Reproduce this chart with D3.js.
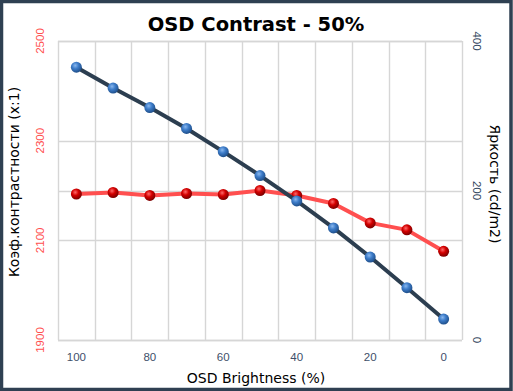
<!DOCTYPE html>
<html>
<head>
<meta charset="utf-8">
<script src="https://cdn.jsdelivr.net/npm/d3@7/dist/d3.min.js"></script>
<style>
  html, body { margin: 0; padding: 0; background: #fff; }
  svg { display: block; }
</style>
</head>
<body>
<div id="chart"></div>
<script>
// data
const brightness = ["100", "90", "80", "70", "60", "50", "40", "30", "20", "10", "0"];
const xTickLabels = ["100", "80", "60", "40", "20", "0"];
const contrast = [2193, 2196, 2190, 2194, 2192, 2200, 2190, 2174, 2135, 2121, 2078];
const luminance = [365, 337, 311, 283, 252, 220, 186, 150, 111, 70, 28];
const leftTicks = [1900, 2100, 2300, 2500];
const rightTicks = [0, 200, 400];

const W = 513, H = 391;
const plot = { left: 58, right: 462, top: 41, bottom: 340 };

const svg = d3.select("#chart").append("svg")
  .attr("width", W).attr("height", H);

const defs = svg.append("defs");
function ball(id, hi, mid, lo) {
  const g = defs.append("radialGradient").attr("id", id)
    .attr("cx", "40%").attr("cy", "35%").attr("r", "65%");
  g.append("stop").attr("offset", "0%").attr("stop-color", hi);
  g.append("stop").attr("offset", "45%").attr("stop-color", mid);
  g.append("stop").attr("offset", "100%").attr("stop-color", lo);
}
ball("redBall", "#ff6a6a", "#d40000", "#7a0000");
ball("blueBall", "#8ab8ee", "#3d7cc9", "#1f4f8a");

// frame
svg.append("rect").attr("x", 1.5).attr("y", 1.5)
  .attr("width", W - 3.5).attr("height", H - 3)
  .attr("fill", "#fff").attr("stroke", "#2f4052").attr("stroke-width", 3.5);

const x = d3.scaleBand().domain(brightness)
  .range([plot.left, plot.right]);
const yL = d3.scaleLinear().domain([1900, 2500]).range([plot.bottom, plot.top]);
const yR = d3.scaleLinear().domain([0, 400]).range([plot.bottom, plot.top]);

// snap grid lines to whole pixels so they all look the same
const snap = v => Math.round(v) + 0.5;
const grid = svg.append("g").attr("stroke", "#d6d6d6").attr("stroke-width", 1.4);
d3.range(brightness.length + 1).forEach(i => {
  const gx = snap(plot.left + i * x.step());
  grid.append("line").attr("x1", gx).attr("x2", gx)
    .attr("y1", plot.top).attr("y2", plot.bottom);
});
leftTicks.forEach(v => grid.append("line")
  .attr("x1", plot.left).attr("x2", plot.right)
  .attr("y1", snap(yL(v))).attr("y2", snap(yL(v))));
rightTicks.forEach(v => grid.append("line")
  .attr("x1", plot.left).attr("x2", plot.right)
  .attr("y1", snap(yR(v))).attr("y2", snap(yR(v))));

const font = "Liberation Sans, Arial, sans-serif";
const cx = d => x(d) + x.bandwidth() / 2;

// x tick labels
svg.append("g").selectAll("text").data(xTickLabels).join("text")
  .attr("x", d => cx(d)).attr("y", 361)
  .attr("text-anchor", "middle")
  .attr("font-family", font).attr("font-size", 11.5)
  .attr("fill", "#3e4f6a").text(d => d);

// left ticks (rotated)
svg.append("g").selectAll("text").data(leftTicks).join("text")
  .attr("transform", d => `translate(44,${yL(d)}) rotate(-90)`)
  .attr("text-anchor", "middle")
  .attr("font-family", font).attr("font-size", 11.5)
  .attr("fill", "#ff4f4f").text(d => d);

// right ticks (rotated)
svg.append("g").selectAll("text").data(rightTicks).join("text")
  .attr("transform", d => `translate(473,${yR(d)}) rotate(90)`)
  .attr("text-anchor", "middle")
  .attr("font-family", font).attr("font-size", 11.5)
  .attr("fill", "#34475e").text(d => d);

// titles
svg.append("text").attr("x", 256).attr("y", 31)
  .attr("text-anchor", "middle")
  .attr("font-family", "DejaVu Sans, Verdana, sans-serif")
  .attr("font-weight", "bold").attr("font-size", 19.5)
  .attr("fill", "#000").text("OSD Contrast - 50%");

svg.append("text").attr("x", 256).attr("y", 383)
  .attr("text-anchor", "middle")
  .attr("font-family", "DejaVu Sans, Verdana, sans-serif").attr("font-size", 14)
  .attr("fill", "#000").text("OSD Brightness (%)");

svg.append("text")
  .attr("transform", "translate(19,182) rotate(-90)")
  .attr("text-anchor", "middle")
  .attr("font-family", "DejaVu Sans, Verdana, sans-serif").attr("font-size", 14)
  .attr("fill", "#000").text("Коэф.контрастности (x:1)");

svg.append("text")
  .attr("transform", "translate(490,184) rotate(90)")
  .attr("text-anchor", "middle")
  .attr("font-family", "DejaVu Sans, Verdana, sans-serif").attr("font-size", 14)
  .attr("fill", "#000").text("Яркость (cd/m2)");

// series
function series(values, yScale, stroke, ballId) {
  const pts = brightness.map((b, i) => [cx(b), yScale(values[i])]);
  svg.append("path").datum(pts)
    .attr("d", d3.line())
    .attr("fill", "none").attr("stroke", stroke)
    .attr("stroke-width", 4).attr("stroke-linejoin", "round");
  svg.append("g").selectAll("circle").data(pts).join("circle")
    .attr("cx", d => d[0]).attr("cy", d => d[1]).attr("r", 5.5)
    .attr("fill", `url(#${ballId})`);
}
series(contrast, yL, "#ff4f4f", "redBall");
series(luminance, yR, "#2c3e50", "blueBall");
</script>
</body>
</html>
